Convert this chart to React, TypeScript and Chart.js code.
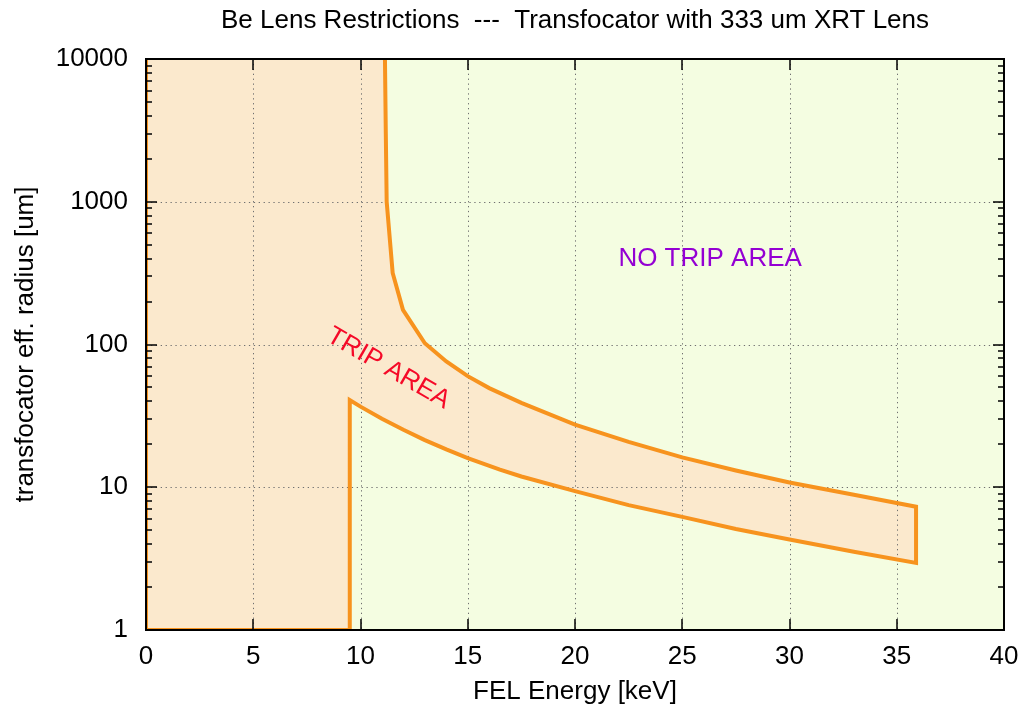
import React, { useEffect, useRef } from 'react';
import { Chart, registerables } from 'chart.js';

Chart.register(...registerables);

// ---- data ----
const upperEnergy = [11.14, 11.18, 11.22, 11.5, 11.98, 13.0, 14.0, 15.0, 16.0, 17.5, 20.0, 22.5, 25.0, 27.5, 30.0, 33.0, 35.9];
const upperRadius = [10000, 3000, 1000, 317, 175, 102, 76, 60, 49.5, 39, 27.5, 20.8, 16.2, 13.1, 10.8, 8.85, 7.3];
const lowerEnergy = [9.5, 10.0, 11.0, 12.0, 13.0, 14.0, 15.0, 16.5, 17.5, 20.0, 22.5, 25.0, 27.5, 30.0, 33.0, 35.9];
const lowerRadius = [40.8, 36.7, 30.2, 25.3, 21.4, 18.4, 16.0, 13.3, 11.9, 9.4, 7.5, 6.2, 5.1, 4.3, 3.53, 2.95];
const xTicks = [0, 5, 10, 15, 20, 25, 30, 35, 40];
const yTicks = [1, 10, 100, 1000, 10000];
const yMinorSteps = [2, 3, 4, 5, 6, 7, 8, 9];

const titleText = 'Be Lens Restrictions  ---  Transfocator with 333 um XRT Lens';
const xTitle = 'FEL Energy [keV]';
const yTitle = 'transfocator eff. radius [um]';
const tripLabel = { text: 'TRIP AREA', x: 11.3, y: 68 };
const noTripLabel = { text: 'NO TRIP AREA', x: 26.3, y: 398 };

const FONT = '"Liberation Sans", Arial, Helvetica, sans-serif';
const ORANGE = '#f7931e';
const FILL = '#fbe9cd';
const GREEN = '#f4fde1';

// Trip-area outline: upper boundary, right edge, lower boundary back, then down and left to the origin corner
const lowerRevE = lowerEnergy.slice().reverse();
const lowerRevR = lowerRadius.slice().reverse();
const polyX = [...upperEnergy, ...lowerRevE, lowerEnergy[0], 0, 0];
const polyY = [...upperRadius, ...lowerRevR, 1, 1, 10000];
const polygon = polyX.map((x, i) => ({ x, y: polyY[i] }));

function drawGrid(chart: any) {
  const { ctx, chartArea: a, scales } = chart;
  ctx.save();
  ctx.strokeStyle = '#707070';
  ctx.lineWidth = 1;
  ctx.setLineDash([1.3, 3.6]);
  xTicks.forEach((v) => {
    if (v === xTicks[0] || v === xTicks[xTicks.length - 1]) return;
    const px = Math.round(scales.x.getPixelForValue(v)) + 0.5;
    ctx.beginPath();
    ctx.moveTo(px, a.top);
    ctx.lineTo(px, a.bottom);
    ctx.stroke();
  });
  yTicks.forEach((v) => {
    if (v === yTicks[0] || v === yTicks[yTicks.length - 1]) return;
    const py = Math.round(scales.y.getPixelForValue(v)) + 0.5;
    ctx.beginPath();
    ctx.moveTo(a.left, py);
    ctx.lineTo(a.right, py);
    ctx.stroke();
  });
  ctx.restore();
}

const decorPlugin = {
  id: 'decor',
  beforeDraw(chart: any) {
    const { ctx, chartArea: a } = chart;
    ctx.save();
    ctx.fillStyle = GREEN;
    ctx.fillRect(a.left, a.top, a.width, a.height);
    ctx.restore();
  },
  afterDatasetDraw(chart: any, args: any) {
    if (args.index === 1) drawGrid(chart);
  },
  afterDatasetsDraw(chart: any) {
    const { ctx, chartArea: a, scales } = chart;
    const xs = scales.x;
    const ys = scales.y;
    ctx.save();
    // annotations
    ctx.font = `26px ${FONT}`;
    ctx.textAlign = 'center';
    ctx.textBaseline = 'middle';
    ctx.fillStyle = '#9400d3';
    ctx.fillText(noTripLabel.text, xs.getPixelForValue(noTripLabel.x), ys.getPixelForValue(noTripLabel.y));
    ctx.save();
    ctx.translate(xs.getPixelForValue(tripLabel.x), ys.getPixelForValue(tripLabel.y));
    ctx.rotate((30 * Math.PI) / 180);
    ctx.fillStyle = '#f50a28';
    ctx.fillText(tripLabel.text, 0, 0);
    ctx.restore();

    // ticks (inward, mirrored)
    ctx.strokeStyle = '#000';
    ctx.lineWidth = 1.5;
    const major = 11;
    const minor = 6;
    ctx.beginPath();
    xTicks.forEach((v) => {
      const px = Math.round(xs.getPixelForValue(v));
      ctx.moveTo(px, a.bottom);
      ctx.lineTo(px, a.bottom - major);
      ctx.moveTo(px, a.top);
      ctx.lineTo(px, a.top + major);
    });
    yTicks.forEach((v) => {
      const py = Math.round(ys.getPixelForValue(v));
      ctx.moveTo(a.left, py);
      ctx.lineTo(a.left + major, py);
      ctx.moveTo(a.right, py);
      ctx.lineTo(a.right - major, py);
    });
    yTicks.slice(0, -1).forEach((d) => {
      yMinorSteps.forEach((m) => {
        const py = Math.round(ys.getPixelForValue(d * m));
        ctx.moveTo(a.left, py);
        ctx.lineTo(a.left + minor, py);
        ctx.moveTo(a.right, py);
        ctx.lineTo(a.right - minor, py);
      });
    });
    ctx.stroke();
    // frame
    ctx.lineWidth = 2;
    ctx.strokeRect(a.left, a.top, a.width, a.height);
    ctx.restore();
  },
  afterDraw(chart: any) {
    const { ctx, chartArea: a } = chart;
    ctx.save();
    ctx.fillStyle = '#000';
    ctx.font = `26px ${FONT}`;
    ctx.textAlign = 'center';
    ctx.textBaseline = 'middle';
    const cx = (a.left + a.right) / 2;
    ctx.fillText(titleText, cx, 13);
    ctx.fillText(xTitle, cx, 684);
    ctx.translate(18, (a.top + a.bottom) / 2);
    ctx.rotate(-Math.PI / 2);
    ctx.fillText(yTitle, 0, 0);
    ctx.restore();
  },
};

export default function App() {
  const ref = useRef<HTMLCanvasElement | null>(null);
  useEffect(() => {
    if (!ref.current) return;
    const chart = new Chart(ref.current, {
      type: 'line',
      data: {
        datasets: [
          {
            label: 'trip boundary',
            data: polygon,
            borderColor: ORANGE,
            borderWidth: 4,
            borderJoinStyle: 'miter',
            pointRadius: 0,
            fill: false,
            tension: 0,
          },
          {
            label: 'trip area',
            data: polygon,
            borderColor: 'rgba(0,0,0,0)',
            borderWidth: 0,
            backgroundColor: FILL,
            pointRadius: 0,
            fill: 'shape',
            tension: 0,
          },
        ],
      },
      options: {
        animation: false,
        responsive: false,
        events: [],
        layout: { padding: { top: 51, right: 14, left: 0, bottom: 0 } },
        plugins: {
          legend: { display: false },
          title: { display: false },
          tooltip: { enabled: false },
        },
        scales: {
          x: {
            type: 'linear',
            min: 0,
            max: 40,
            afterBuildTicks: (s: any) => {
              s.ticks = xTicks.map((v) => ({ value: v }));
            },
            afterFit: (s: any) => {
              s.height = 74;
              s.paddingLeft = 0;
              s.paddingRight = 0;
            },
            grid: { display: false },
            border: { display: false },
            ticks: {
              color: '#000',
              font: { family: FONT, size: 26 },
              padding: 3,
              maxRotation: 0,
              callback: (v: any) => String(v),
            },
          },
          y: {
            type: 'logarithmic',
            min: 1,
            max: 10000,
            afterBuildTicks: (s: any) => {
              s.ticks = yTicks.map((v) => ({ value: v }));
            },
            afterFit: (s: any) => {
              s.width = 138;
              s.paddingTop = 0;
              s.paddingBottom = 0;
            },
            grid: { display: false },
            border: { display: false },
            ticks: {
              color: '#000',
              font: { family: FONT, size: 26 },
              padding: 10,
              callback: (v: any) => String(v),
            },
          },
        },
      },
      plugins: [decorPlugin],
    } as any);
    return () => chart.destroy();
  }, []);
  return (
    <div style={{ width: 1010, height: 696 }}>
      <canvas ref={ref} width={1010} height={696} style={{ width: 1010, height: 696 }} />
    </div>
  );
}
